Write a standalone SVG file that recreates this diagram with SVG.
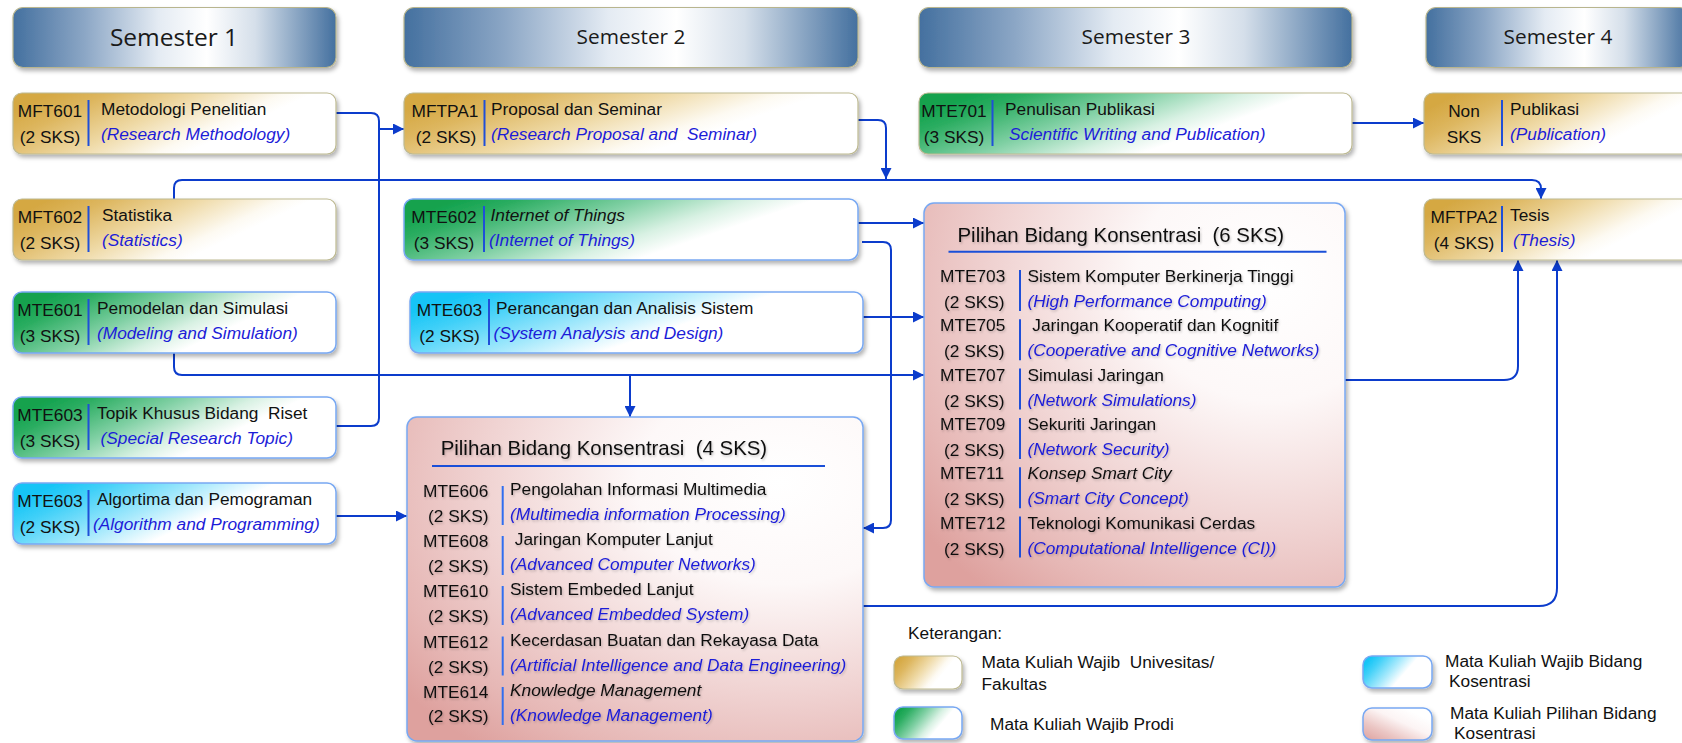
<svg xmlns="http://www.w3.org/2000/svg" width="1682" height="743" viewBox="0 0 1682 743">
<style>
.t{font-family:"Liberation Sans",Arial,sans-serif;font-size:17.3px;fill:#111;white-space:pre}
.e{font-style:italic;fill:#1c1cd8}
.i{font-style:italic}
.c{text-anchor:middle}
.h{font-family:"Open Sans",sans-serif;font-size:20.8px;fill:#1a1a1a;text-anchor:middle}
.pt{font-family:"Liberation Sans",Arial,sans-serif;font-size:20.4px;fill:#111;white-space:pre}
.wire{fill:none;stroke:#0c3ccc;stroke-width:2}
.sep{stroke:#1f4fd8;stroke-width:2}
.sep2{stroke:#2f6ef0;stroke-width:2}
.ul{stroke:#1a4fd8;stroke-width:2}
.hdr{stroke:#b8b58e;stroke-width:1.2}
.bg{stroke:#bdb992;stroke-width:1.2}
.bb{stroke:#78a8f2;stroke-width:1.5}
</style>
<defs>
  <linearGradient id="gHead" x1="0" y1="0" x2="1" y2="0">
    <stop offset="0" stop-color="#44709f"/>
    <stop offset="0.22" stop-color="#8ba6c5"/>
    <stop offset="0.45" stop-color="#e4ebf3"/>
    <stop offset="0.6" stop-color="#ffffff"/>
    <stop offset="0.75" stop-color="#d5dfea"/>
    <stop offset="1" stop-color="#44709f"/>
  </linearGradient>
  <linearGradient id="gGold" x1="0" y1="0.3" x2="1" y2="0.7">
    <stop offset="0" stop-color="#d5a843"/>
    <stop offset="0.15" stop-color="#ddb65e"/>
    <stop offset="0.4" stop-color="#efdaa7"/>
    <stop offset="0.62" stop-color="#fdfaf2"/>
    <stop offset="0.7" stop-color="#ffffff"/>
  </linearGradient>
  <linearGradient id="gGreen" x1="0" y1="0.3" x2="1" y2="0.7">
    <stop offset="0" stop-color="#12a24d"/>
    <stop offset="0.12" stop-color="#2bad61"/>
    <stop offset="0.35" stop-color="#80d0a4"/>
    <stop offset="0.55" stop-color="#d8f1e3"/>
    <stop offset="0.68" stop-color="#ffffff"/>
  </linearGradient>
  <linearGradient id="gCyan" x1="0" y1="0.3" x2="1" y2="0.7">
    <stop offset="0" stop-color="#12c4f6"/>
    <stop offset="0.15" stop-color="#40d0f8"/>
    <stop offset="0.4" stop-color="#a6e9fc"/>
    <stop offset="0.6" stop-color="#ffffff"/>
  </linearGradient>
  <linearGradient id="gPink" x1="0" y1="1" x2="0.8" y2="0.2">
    <stop offset="0" stop-color="#dda19e"/>
    <stop offset="0.35" stop-color="#ebc6c4"/>
    <stop offset="0.7" stop-color="#fcf4f4"/>
    <stop offset="1" stop-color="#ffffff"/>
  </linearGradient>
  <!-- elective blocks: white core towards the upper right, pink towards the left -->
  <radialGradient id="gPinkBox" cx="0.82" cy="0.2" r="1.05" fx="0.82" fy="0.2">
    <stop offset="0" stop-color="#ffffff"/>
    <stop offset="0.3" stop-color="#fdf8f8"/>
    <stop offset="0.62" stop-color="#f0d3d2"/>
    <stop offset="0.85" stop-color="#e6b7b5"/>
    <stop offset="1" stop-color="#dea19e"/>
  </radialGradient>
  <filter id="sh" x="-5%" y="-10%" width="115%" height="130%">
    <feDropShadow dx="2" dy="3" stdDeviation="2" flood-color="#000" flood-opacity="0.3"/>
  </filter>
  <filter id="tsh" x="-5%" y="-20%" width="110%" height="150%">
    <feDropShadow dx="1" dy="1.5" stdDeviation="1" flood-color="#000" flood-opacity="0.22"/>
  </filter>
  <marker id="ah" viewBox="0 0 10 10" refX="10" refY="5" markerWidth="11" markerHeight="11" markerUnits="userSpaceOnUse" orient="auto">
    <path d="M0,0 L10,5 L0,10 z" fill="#0c3ccc"/>
  </marker>
</defs>

<!-- semester headers -->
<g id="sem1"><rect class="hdr" x="13" y="7.5" width="323" height="60" rx="10" fill="url(#gHead)" filter="url(#sh)"/><text class="h" x="174" y="46" style="font-size:24.5px">Semester 1</text></g>
<g id="sem2"><rect class="hdr" x="404" y="7.5" width="454" height="60" rx="10" fill="url(#gHead)" filter="url(#sh)"/><text class="h" x="631" y="44">Semester 2</text></g>
<g id="sem3"><rect class="hdr" x="919" y="7.5" width="433" height="60" rx="10" fill="url(#gHead)" filter="url(#sh)"/><text class="h" x="1136" y="44">Semester 3</text></g>
<g id="sem4"><rect class="hdr" x="1426" y="7.5" width="264" height="60" rx="10" fill="url(#gHead)" filter="url(#sh)"/><text class="h" x="1558" y="44">Semester 4</text></g>

<!-- connectors -->
<g id="connectors">
  <path class="wire" d="M336,113 H371 Q379,113 379,121 V418 Q379,426 371,426 H336"/>
  <path class="wire" d="M379,129 H404" marker-end="url(#ah)"/>
  <path class="wire" d="M858,120 H878 Q886,120 886,128 V179" marker-end="url(#ah)"/>
  <path class="wire" d="M174,199 V188 Q174,180 182,180 H1532 Q1541,180 1541,189 V199" marker-end="url(#ah)"/>
  <path class="wire" d="M858,223 H924" marker-end="url(#ah)"/>
  <path class="wire" d="M862,242 H883 Q891,242 891,250 V520 Q891,528 883,528 H863" marker-end="url(#ah)"/>
  <path class="wire" d="M863,317 H924" marker-end="url(#ah)"/>
  <path class="wire" d="M174,353 V367 Q174,375 182,375 H924" marker-end="url(#ah)"/>
  <path class="wire" d="M630,375 V417" marker-end="url(#ah)"/>
  <path class="wire" d="M336,516 H407" marker-end="url(#ah)"/>
  <path class="wire" d="M1352,123 H1424" marker-end="url(#ah)"/>
  <path class="wire" d="M1345,380 H1504 Q1518,380 1518,366 V260" marker-end="url(#ah)"/>
  <path class="wire" d="M863,606 H1539 Q1557,606 1557,588 V260" marker-end="url(#ah)"/>
</g>

<!-- semester 1 -->
<g id="mft601">
  <rect class="bg" x="13" y="93" width="323" height="61" rx="9" fill="url(#gGold)" filter="url(#sh)"/>
  <text class="t c" x="50" y="117">MFT601</text><text class="t c" x="50" y="143">(2 SKS)</text>
  <line class="sep" x1="88.5" y1="100" x2="88.5" y2="146"/>
  <text class="t" x="101" y="115">Metodologi Penelitian</text><text class="t e" x="101" y="140">(Research Methodology)</text>
</g>
<g id="mft602">
  <rect class="bg" x="13" y="199" width="323" height="61" rx="9" fill="url(#gGold)" filter="url(#sh)"/>
  <text class="t c" x="50" y="223">MFT602</text><text class="t c" x="50" y="249">(2 SKS)</text>
  <line class="sep" x1="88.5" y1="206" x2="88.5" y2="252"/>
  <text class="t" x="102" y="221">Statistika</text><text class="t e" x="102" y="246">(Statistics)</text>
</g>
<g id="mte601">
  <rect class="bb" x="13" y="292" width="323" height="61" rx="9" fill="url(#gGreen)" filter="url(#sh)"/>
  <text class="t c" x="50" y="316">MTE601</text><text class="t c" x="50" y="342">(3 SKS)</text>
  <line class="sep" x1="88.5" y1="299" x2="88.5" y2="345"/>
  <text class="t" x="97" y="314">Pemodelan dan Simulasi</text><text class="t e" x="97" y="339">(Modeling and Simulation)</text>
</g>
<g id="mte603-topik">
  <rect class="bb" x="13" y="397" width="323" height="61" rx="9" fill="url(#gGreen)" filter="url(#sh)"/>
  <text class="t c" x="50" y="421">MTE603</text><text class="t c" x="50" y="447">(3 SKS)</text>
  <line class="sep" x1="88.5" y1="404" x2="88.5" y2="450"/>
  <text class="t" x="97" y="419">Topik Khusus Bidang  Riset</text><text class="t e" x="100.5" y="444">(Special Research Topic)</text>
</g>
<g id="mte603-algo">
  <rect class="bb" x="13" y="483" width="323" height="61" rx="9" fill="url(#gCyan)" filter="url(#sh)"/>
  <text class="t c" x="50" y="507">MTE603</text><text class="t c" x="50" y="533">(2 SKS)</text>
  <line class="sep" x1="88.5" y1="490" x2="88.5" y2="536"/>
  <text class="t" x="97" y="505">Algortima dan Pemograman</text><text class="t e" x="93" y="530">(Algorithm and Programming)</text>
</g>

<!-- semester 2 -->
<g id="mftpa1">
  <rect class="bg" x="404" y="93" width="454" height="61" rx="9" fill="url(#gGold)" filter="url(#sh)"/>
  <text class="t c" x="445" y="117">MFTPA1</text><text class="t c" x="446" y="143">(2 SKS)</text>
  <line class="sep" x1="484.5" y1="100" x2="484.5" y2="146"/>
  <text class="t" x="491" y="115">Proposal dan Seminar</text><text class="t e" x="491" y="140">(Research Proposal and  Seminar)</text>
</g>
<g id="mte602">
  <rect class="bb" x="404" y="199" width="454" height="61" rx="9" fill="url(#gGreen)" filter="url(#sh)"/>
  <text class="t c" x="444" y="223">MTE602</text><text class="t c" x="444" y="249">(3 SKS)</text>
  <line class="sep" x1="484" y1="206" x2="484" y2="252"/>
  <text class="t i" x="490.5" y="221">Internet of Things</text><text class="t e" x="489" y="246">(Internet of Things)</text>
</g>
<g id="mte603-sad">
  <rect class="bb" x="410" y="292" width="453" height="61" rx="9" fill="url(#gCyan)" filter="url(#sh)"/>
  <text class="t c" x="449.5" y="316">MTE603</text><text class="t c" x="449.5" y="342">(2 SKS)</text>
  <line class="sep" x1="489" y1="299" x2="489" y2="345"/>
  <text class="t" x="496" y="314">Perancangan dan Analisis Sistem</text><text class="t e" x="493.5" y="339">(System Analysis and Design)</text>
</g>
<g id="elective-4sks">
  <rect class="bb" x="407" y="417" width="456" height="324" rx="10" fill="url(#gPinkBox)" filter="url(#sh)"/>
  <g filter="url(#tsh)">
    <text class="pt" x="440.7" y="455">Pilihan Bidang Konsentrasi  (4 SKS)</text>
    <text class="t" x="423" y="497">MTE606</text><text class="t" x="428" y="522">(2 SKS)</text>
    <text class="t" x="510" y="495">Pengolahan Informasi Multimedia</text><text class="t e" x="510" y="520">(Multimedia information Processing)</text>
    <text class="t" x="423" y="547">MTE608</text><text class="t" x="428" y="572">(2 SKS)</text>
    <text class="t" x="510" y="545"> Jaringan Komputer Lanjut</text><text class="t e" x="510" y="570">(Advanced Computer Networks)</text>
    <text class="t" x="423" y="597">MTE610</text><text class="t" x="428" y="622">(2 SKS)</text>
    <text class="t" x="510" y="595">Sistem Embeded Lanjut</text><text class="t e" x="510" y="620">(Advanced Embedded System)</text>
    <text class="t" x="423" y="647.5">MTE612</text><text class="t" x="428" y="672.5">(2 SKS)</text>
    <text class="t" x="510" y="645.5">Kecerdasan Buatan dan Rekayasa Data</text><text class="t e" x="510" y="670.5">(Artificial Intelligence and Data Engineering)</text>
    <text class="t" x="423" y="698">MTE614</text><text class="t" x="428" y="722">(2 SKS)</text>
    <text class="t i" x="510" y="696">Knowledge Management</text><text class="t e" x="510" y="721">(Knowledge Management)</text>
  </g>
  <line class="ul" x1="432" y1="466" x2="825" y2="466"/>
  <line class="sep2" x1="502.7" y1="486" x2="502.7" y2="525"/>
  <line class="sep2" x1="502.7" y1="536" x2="502.7" y2="575"/>
  <line class="sep2" x1="502.7" y1="586" x2="502.7" y2="625"/>
  <line class="sep2" x1="502.7" y1="636.5" x2="502.7" y2="675.5"/>
  <line class="sep2" x1="502.7" y1="687" x2="502.7" y2="725"/>
</g>

<!-- semester 3 -->
<g id="mte701">
  <rect class="bg" x="919" y="93" width="433" height="61" rx="9" fill="url(#gGreen)" filter="url(#sh)"/>
  <text class="t c" x="954" y="117">MTE701</text><text class="t c" x="954" y="143">(3 SKS)</text>
  <line class="sep" x1="992.5" y1="100" x2="992.5" y2="146"/>
  <text class="t" x="1005" y="115">Penulisan Publikasi</text><text class="t e" x="1009" y="140">Scientific Writing and Publication)</text>
</g>
<g id="elective-6sks">
  <rect class="bb" x="924" y="203" width="421" height="384" rx="10" fill="url(#gPinkBox)" filter="url(#sh)"/>
  <g filter="url(#tsh)">
    <text class="pt" x="957.5" y="241.7">Pilihan Bidang Konsentrasi  (6 SKS)</text>
    <text class="t" x="940" y="282">MTE703</text><text class="t" x="944" y="308">(2 SKS)</text>
    <text class="t" x="1027.5" y="282">Sistem Komputer Berkinerja Tinggi</text><text class="t e" x="1027.5" y="307">(High Performance Computing)</text>
    <text class="t" x="940" y="331.3">MTE705</text><text class="t" x="944" y="357.3">(2 SKS)</text>
    <text class="t" x="1027.5" y="331.3"> Jaringan Kooperatif dan Kognitif</text><text class="t e" x="1027.5" y="356.3">(Cooperative and Cognitive Networks)</text>
    <text class="t" x="940" y="380.6">MTE707</text><text class="t" x="944" y="406.6">(2 SKS)</text>
    <text class="t" x="1027.5" y="380.6">Simulasi Jaringan</text><text class="t e" x="1027.5" y="405.6">(Network Simulations)</text>
    <text class="t" x="940" y="429.9">MTE709</text><text class="t" x="944" y="455.9">(2 SKS)</text>
    <text class="t" x="1027.5" y="429.9">Sekuriti Jaringan</text><text class="t e" x="1027.5" y="454.9">(Network Security)</text>
    <text class="t" x="940" y="479.2">MTE711</text><text class="t" x="944" y="505.2">(2 SKS)</text>
    <text class="t i" x="1027.5" y="479.2">Konsep Smart City</text><text class="t e" x="1027.5" y="504.2">(Smart City Concept)</text>
    <text class="t" x="940" y="528.5">MTE712</text><text class="t" x="944" y="554.5">(2 SKS)</text>
    <text class="t" x="1027.5" y="528.5">Teknologi Komunikasi Cerdas</text><text class="t e" x="1027.5" y="553.5">(Computational Intelligence (CI))</text>
  </g>
  <line class="ul" x1="948.5" y1="251.7" x2="1326.5" y2="251.7"/>
  <line class="sep" x1="1020" y1="270" x2="1020" y2="311"/>
  <line class="sep" x1="1020" y1="319.3" x2="1020" y2="360.3"/>
  <line class="sep" x1="1020" y1="368.6" x2="1020" y2="409.6"/>
  <line class="sep" x1="1020" y1="417.9" x2="1020" y2="458.9"/>
  <line class="sep" x1="1020" y1="467.2" x2="1020" y2="508.2"/>
  <line class="sep" x1="1020" y1="516.5" x2="1020" y2="557.5"/>
</g>

<!-- semester 4 -->
<g id="publikasi">
  <rect class="bg" x="1424" y="93" width="300" height="61" rx="9" fill="url(#gGold)" filter="url(#sh)"/>
  <text class="t c" x="1464" y="117">Non</text><text class="t c" x="1464" y="143">SKS</text>
  <line class="sep" x1="1502" y1="100" x2="1502" y2="146"/>
  <text class="t" x="1510" y="115">Publikasi</text><text class="t e" x="1510" y="140">(Publication)</text>
</g>
<g id="mftpa2">
  <rect class="bg" x="1424" y="199" width="300" height="61" rx="9" fill="url(#gGold)" filter="url(#sh)"/>
  <text class="t c" x="1464" y="223">MFTPA2</text><text class="t c" x="1464" y="249">(4 SKS)</text>
  <line class="sep" x1="1502" y1="206" x2="1502" y2="252"/>
  <text class="t" x="1510" y="221">Tesis</text><text class="t e" x="1513" y="246">(Thesis)</text>
</g>

<!-- legend -->
<g id="legend">
  <text class="t" x="908" y="639">Keterangan:</text>
  <rect class="bg" x="894" y="656" width="68" height="33" rx="9" fill="url(#gGold)" filter="url(#sh)"/>
  <text class="t" x="981.5" y="668">Mata Kuliah Wajib  Univesitas/</text>
  <text class="t" x="981.5" y="690">Fakultas</text>
  <rect class="bb" x="894" y="707" width="68" height="32" rx="9" fill="url(#gGreen)" filter="url(#sh)"/>
  <text class="t" x="990" y="730">Mata Kuliah Wajib Prodi</text>
  <rect class="bb" x="1363" y="656" width="69" height="32" rx="9" fill="url(#gCyan)" filter="url(#sh)"/>
  <text class="t" x="1445" y="666.5">Mata Kuliah Wajib Bidang</text>
  <text class="t" x="1449" y="687">Kosentrasi</text>
  <rect class="bb" x="1363" y="708" width="69" height="32" rx="9" fill="url(#gPink)" filter="url(#sh)"/>
  <text class="t" x="1450" y="719">Mata Kuliah Pilihan Bidang</text>
  <text class="t" x="1454" y="739">Kosentrasi</text>
</g>
</svg>
